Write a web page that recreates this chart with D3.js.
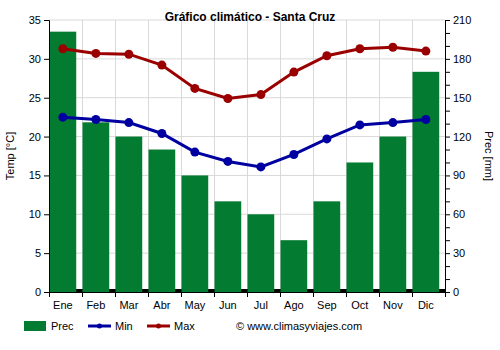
<!DOCTYPE html>
<html><head><meta charset="utf-8">
<script src="https://cdn.jsdelivr.net/npm/d3@7"></script>
<style>body{margin:0;background:#fff}svg{font-family:"Liberation Sans",Arial,sans-serif}</style>
</head><body>
<svg id="c" width="500" height="350"></svg>
<script>
const months = ["Ene","Feb","Mar","Abr","May","Jun","Jul","Ago","Sep","Oct","Nov","Dic"];
const prec = [201,131,120,110,90,70,60,40,70,100,120,170];
const tmin = [22.5,22.2,21.8,20.4,18.0,16.8,16.1,17.7,19.7,21.5,21.8,22.2];
const tmax = [31.3,30.7,30.6,29.2,26.2,24.9,25.4,28.3,30.4,31.3,31.5,31.0];
const tempTicks = [0,5,10,15,20,25,30,35];
const precTicks = [0,30,60,90,120,150,180,210];

const svg = d3.select("#c");
const L=49,R=445,T=20,B=292;
const x = d3.scaleBand().domain(months).range([L,R]).padding(0);
const bw = x.bandwidth()*0.81;
const y = d3.scaleLinear().domain([0,35]).range([B,T]);
const yp = d3.scaleLinear().domain([0,210]).range([B,T]);
const green="#037b30", blue="#0000a0", red="#9b0000";

// grid
svg.append("g").selectAll("line").data(tempTicks.slice(1)).join("line")
  .attr("x1",L).attr("x2",R).attr("y1",d=>y(d)).attr("y2",d=>y(d))
  .attr("stroke","#d9d9d9").attr("stroke-width",1);
svg.append("g").selectAll("line").data(months.slice(1)).join("line")
  .attr("x1",d=>x(d)+0.5).attr("x2",d=>x(d)+0.5).attr("y1",T).attr("y2",B)
  .attr("stroke","#d9d9d9").attr("stroke-width",1);

// black base band
svg.append("rect").attr("x",L).attr("y",B-3).attr("width",R-L).attr("height",3).attr("fill","#000");

// bars
svg.append("g").selectAll("rect").data(prec).join("rect")
  .attr("x",(d,i)=>x(months[i])+0.5).attr("width",bw)
  .attr("y",d=>yp(d)).attr("height",d=>B-yp(d)).attr("fill",green);

// lines
const cx = i => x(months[i])+0.5+bw/2;
function series(data,color){
  const line=d3.line().x((d,i)=>cx(i)).y(d=>y(d));
  svg.append("path").datum(data).attr("d",line).attr("fill","none").attr("stroke",color).attr("stroke-width",3);
  svg.append("g").selectAll("circle").data(data).join("circle")
    .attr("cx",(d,i)=>cx(i)).attr("cy",d=>y(d)).attr("r",4.5).attr("fill",color);
}
series(tmin,blue);
series(tmax,red);

// axes
const axL = svg.append("g").attr("transform",`translate(${L},0)`)
  .call(d3.axisLeft(y).tickValues(tempTicks).tickSize(5).tickPadding(3));
const axR = svg.append("g").attr("transform",`translate(${R},0)`)
  .call(d3.axisRight(yp).tickValues(precTicks).tickSize(5).tickPadding(3));
const minor = d3.range(0,211,10).filter(v=>v%30!==0);
svg.append("g").selectAll("line").data(minor).join("line")
  .attr("x1",R).attr("x2",R+5).attr("y1",d=>yp(d)+0.5).attr("y2",d=>yp(d)+0.5).attr("stroke","#000");
const axB = svg.append("g").attr("transform",`translate(0,${B})`)
  .call(d3.axisBottom(x).tickSize(0).tickPadding(9));
axB.selectAll(".tick text").attr("transform",`translate(${bw/2 - x.bandwidth()/2 + 0.5},0)`);
svg.append("g").selectAll("line").data(months).join("line")
  .attr("x1",d=>x(d)+0.5).attr("x2",d=>x(d)+0.5).attr("y1",B).attr("y2",B+5).attr("stroke","#000");
svg.append("line").attr("x1",R+0.5).attr("x2",R+0.5).attr("y1",B).attr("y2",B+5).attr("stroke","#000");
[axL,axR,axB].forEach(a=>{a.selectAll("text").attr("font-size",11).attr("fill","#000").attr("font-family","'Liberation Sans',Arial,sans-serif");a.selectAll("path,line").attr("stroke","#000");});
axB.select(".domain").attr("stroke","#000");

// titles
svg.append("text").attr("x",250).attr("y",21).attr("text-anchor","middle").attr("font-size",12).attr("font-weight","bold").text("Gráfico climático - Santa Cruz");
svg.append("text").attr("transform",`translate(14,${(T+B)/2}) rotate(-90)`).attr("text-anchor","middle").attr("font-size",11).text("Temp [°C]");
svg.append("text").attr("transform",`translate(485,${(T+B)/2}) rotate(90)`).attr("text-anchor","middle").attr("font-size",11).text("Prec [mm]");

// legend
const ly=326;
svg.append("rect").attr("x",24).attr("y",ly-5).attr("width",22).attr("height",10).attr("fill",green);
svg.append("text").attr("x",51).attr("y",ly+4).attr("font-size",11).text("Prec");
[[88,blue,"Min"],[147,red,"Max"]].forEach(([lx,c,t])=>{
  svg.append("line").attr("x1",lx).attr("x2",lx+23).attr("y1",ly).attr("y2",ly).attr("stroke",c).attr("stroke-width",3);
  svg.append("circle").attr("cx",lx+11.5).attr("cy",ly).attr("r",2.5).attr("fill",c);
  svg.append("text").attr("x",lx+27).attr("y",ly+4).attr("font-size",11).text(t);
});
svg.append("text").attr("x",236).attr("y",ly+4).attr("font-size",11).text("© www.climasyviajes.com");
</script>
</body></html>
